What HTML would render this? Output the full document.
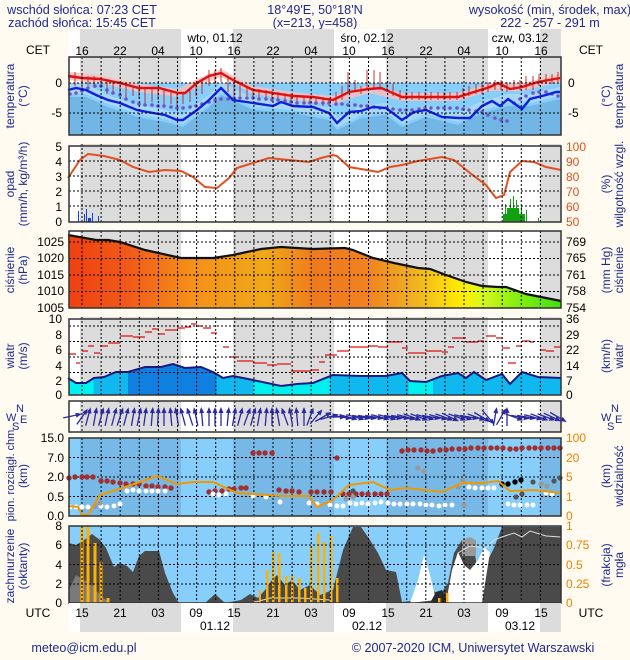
<!DOCTYPE html>
<html><head><meta charset="utf-8"><style>
body{margin:0;background:#fffbf0;}
svg{display:block;font-family:"Liberation Sans",sans-serif;}
.n{fill:#1c2a90;font-size:12px}
.h{fill:#1c2a90;font-size:12.6px}
.t{fill:#000;font-size:12px}
.o{fill:#f08000;font-size:12px}
.r{fill:#e05020;font-size:12px}
.g{stroke:#000;stroke-width:1;stroke-dasharray:2,2;fill:none}
</style></head><body>
<svg width="630" height="660" viewBox="0 0 630 660" xmlns="http://www.w3.org/2000/svg">
<defs>
<g id="nb"><rect x="80" width="101" height="1" fill="#dcdcdc"/><rect x="233" width="101" height="1" fill="#dcdcdc"/><rect x="386" width="102" height="1" fill="#dcdcdc"/><rect x="540" width="21" height="1" fill="#dcdcdc"/></g>
<g id="vg"><path d="M82,0v1M101.1,0v1M120.2,0v1M139.3,0v1M158.4,0v1M177.5,0v1M196.6,0v1M215.7,0v1M234.8,0v1M253.9,0v1M273,0v1M292.1,0v1M311.2,0v1M330.3,0v1M349.4,0v1M368.5,0v1M387.6,0v1M406.7,0v1M425.8,0v1M444.9,0v1M464,0v1M483.1,0v1M502.2,0v1M521.3,0v1M540.4,0v1" stroke="#000" stroke-width="1" stroke-dasharray="2,2" vector-effect="non-scaling-stroke"/></g>
<g id="ar"><line x1="0" y1="9" x2="0" y2="-8" stroke="#2a2aa0" stroke-width="1.3"/><path d="M-2.5,-4L0,-10L2.5,-4Z" fill="#2a2aa0"/></g>
<linearGradient id="pg" x1="69" x2="561" gradientUnits="userSpaceOnUse">
<stop offset="0" stop-color="#f04010"/><stop offset="0.12" stop-color="#f05a18"/><stop offset="0.25" stop-color="#f59018"/><stop offset="0.4" stop-color="#f0a818"/><stop offset="0.5" stop-color="#ee7a1c"/><stop offset="0.6" stop-color="#f08020"/><stop offset="0.7" stop-color="#f0b020"/><stop offset="0.8" stop-color="#ffee00"/><stop offset="0.84" stop-color="#d8f820"/><stop offset="0.9" stop-color="#90f010"/><stop offset="1" stop-color="#40e010"/></linearGradient>
<linearGradient id="wg" x1="69" x2="561" gradientUnits="userSpaceOnUse">
<stop offset="0" stop-color="#00f0f0"/><stop offset="0.05" stop-color="#00f0f0"/><stop offset="0.05" stop-color="#10b8f0"/><stop offset="0.12" stop-color="#10b8f0"/><stop offset="0.12" stop-color="#1080e0"/><stop offset="0.3" stop-color="#1080e0"/><stop offset="0.3" stop-color="#10b8f0"/><stop offset="0.375" stop-color="#10b8f0"/><stop offset="0.375" stop-color="#00f0f0"/><stop offset="0.53" stop-color="#00f0f0"/><stop offset="0.53" stop-color="#10b8f0"/><stop offset="0.69" stop-color="#10b8f0"/><stop offset="0.69" stop-color="#00f0f0"/><stop offset="0.74" stop-color="#00f0f0"/><stop offset="0.74" stop-color="#10b8f0"/><stop offset="1" stop-color="#10b8f0"/></linearGradient>
</defs>

<!-- header -->
<text class="h" x="82" y="14" text-anchor="middle">wschód słońca: 07:23 CET</text>
<text class="h" x="82" y="27" text-anchor="middle">zachód słońca: 15:45 CET</text>
<text class="h" x="315" y="14" text-anchor="middle">18°49'E, 50°18'N</text>
<text class="h" x="315" y="27" text-anchor="middle">(x=213, y=458)</text>
<text class="h" x="550" y="14" text-anchor="middle">wysokość (min, środek, max)</text>
<text class="h" x="550" y="27" text-anchor="middle">222 - 257 - 291 m</text>

<!-- top strip -->
<rect x="69" y="29" width="492" height="28" fill="#fff"/>
<use href="#nb" transform="translate(0,29) scale(1,28)"/>
<g class="t" text-anchor="middle">
<text x="215" y="42" >wto, 01.12</text><text x="367" y="42">śro, 02.12</text><text x="520" y="42">czw, 03.12</text>
<text x="82" y="55">16</text><text x="120" y="55">22</text><text x="158" y="55">04</text><text x="196" y="55">10</text><text x="234" y="55">16</text><text x="273" y="55">22</text><text x="311" y="55">04</text><text x="349" y="55">10</text><text x="388" y="55">16</text><text x="426" y="55">22</text><text x="464" y="55">04</text><text x="502" y="55">10</text><text x="541" y="55">16</text>
<text x="38" y="54">CET</text><text x="591" y="54">CET</text>
</g>

<!-- TEMPERATURE 57-135 -->
<rect x="69" y="57" width="492" height="26" fill="#fff"/>
<use href="#nb" transform="translate(0,57) scale(1,26)"/>
<rect x="69" y="83" width="492" height="52" fill="#87cefa"/>
<polygon fill="#72b6e6" points="69,97 86,97 108,107 137,117 165,122 183,127 209,107 221,95 253,110 293,113 329,120 337,130 361,118 386,115 402,127 426,117 458,125 482,113 508,106 530,106 560,99 561,135 69,135"/>
<polygon fill="#a8d8f8" points="69,84 86,84 108,95 137,105 165,110 183,115 209,95 221,82 253,98 293,101 329,108 337,118 361,106 386,103 402,115 426,105 458,113 482,101 508,94 530,94 560,87 560,96 530,103 508,103 482,110 458,122 426,114 402,124 386,112 361,115 337,127 329,117 293,110 253,107 221,92 209,104 183,124 165,119 137,114 108,104 86,94 69,94"/>
<polygon fill="#f6c0c0" opacity="0.85" points="68,72 100,75 139,84 178,89 197,79 221,69 253,86 293,92 333,96 369,85 402,93 458,93 490,83 522,83 560,74 560,82 522,91 490,91 458,101 402,101 369,93 333,104 293,100 253,94 221,77 197,87 178,97 139,92 100,83 68,80"/>
<g stroke="#c02020" stroke-width="0.9">
<path d="M75,72v14M82,74v16M88,76v10M94,76v12M101,78v10M107,80v14M113,82v12M120,83v12M126,85v12M133,86v10M139,87v12M145,88v16M152,88v14M158,88v12M164,89v16M171,90v14M177,92v14M183,92v12M190,88v14M196,84v12M202,80v14M209,70v16M215,70v14M221,68v14M228,76v16M234,78v18M240,82v14M247,86v10M253,88v10M259,89v10M266,90v8M272,91v8M278,92v8M285,93v8M291,94v8M297,95v8M304,96v8M310,96v8M316,97v8M323,98v8M329,98v8M336,92v14M342,86v14M348,72v20M355,80v12M361,86v8M367,70v18M374,70v18M380,72v18M387,82v10M393,84v12M400,90v10M406,92v8M412,92v8M419,92v8M425,92v8M431,92v8M438,92v8M444,92v8M450,92v8M457,92v8M463,88v10M469,86v10M476,84v10M482,84v10M488,82v10M495,80v10M501,80v10M507,82v10M514,80v10M520,80v10M526,76v14M533,76v14M539,74v12M546,74v10M552,74v10M558,72v10"/>
</g>
<g fill="#6e55c8">
<circle cx="70" cy="94" r="1.8"/><circle cx="76" cy="93" r="1.8"/><circle cx="82" cy="91" r="1.8"/><circle cx="88" cy="88" r="1.8"/><circle cx="95" cy="86" r="1.8"/><circle cx="101" cy="86" r="1.8"/><circle cx="107" cy="90" r="1.8"/><circle cx="113" cy="93" r="1.8"/><circle cx="120" cy="95" r="1.8"/><circle cx="126" cy="99" r="1.8"/><circle cx="133" cy="102" r="1.8"/><circle cx="139" cy="104" r="1.8"/><circle cx="145" cy="105" r="1.8"/><circle cx="152" cy="105" r="1.8"/><circle cx="158" cy="106" r="1.8"/><circle cx="164" cy="106" r="1.8"/><circle cx="171" cy="107" r="1.8"/><circle cx="177" cy="108" r="1.8"/><circle cx="183" cy="108" r="1.8"/><circle cx="190" cy="107" r="1.8"/><circle cx="196" cy="106" r="1.8"/><circle cx="202" cy="104" r="1.8"/><circle cx="209" cy="102" r="1.8"/><circle cx="215" cy="100" r="1.8"/><circle cx="221" cy="99" r="1.8"/><circle cx="228" cy="99" r="1.8"/><circle cx="234" cy="98" r="1.8"/><circle cx="240" cy="98" r="1.8"/><circle cx="247" cy="98" r="1.8"/><circle cx="253" cy="98" r="1.8"/><circle cx="259" cy="99" r="1.8"/><circle cx="266" cy="99" r="1.8"/><circle cx="272" cy="100" r="1.8"/><circle cx="278" cy="100" r="1.8"/><circle cx="285" cy="101" r="1.8"/><circle cx="291" cy="102" r="1.8"/><circle cx="297" cy="103" r="1.8"/><circle cx="304" cy="103" r="1.8"/><circle cx="310" cy="103" r="1.8"/><circle cx="316" cy="103" r="1.8"/><circle cx="323" cy="103" r="1.8"/><circle cx="329" cy="103" r="1.8"/><circle cx="336" cy="104" r="1.8"/><circle cx="342" cy="104" r="1.8"/><circle cx="348" cy="105" r="1.8"/><circle cx="355" cy="105" r="1.8"/><circle cx="361" cy="106" r="1.8"/><circle cx="367" cy="106" r="1.8"/><circle cx="374" cy="107" r="1.8"/><circle cx="380" cy="108" r="1.8"/><circle cx="387" cy="108" r="1.8"/><circle cx="393" cy="109" r="1.8"/><circle cx="400" cy="110" r="1.8"/><circle cx="406" cy="110" r="1.8"/><circle cx="412" cy="110" r="1.8"/><circle cx="419" cy="109" r="1.8"/><circle cx="425" cy="108" r="1.8"/><circle cx="431" cy="108" r="1.8"/><circle cx="438" cy="108" r="1.8"/><circle cx="444" cy="108" r="1.8"/><circle cx="450" cy="108" r="1.8"/><circle cx="457" cy="108" r="1.8"/><circle cx="463" cy="109" r="1.8"/><circle cx="469" cy="110" r="1.8"/><circle cx="476" cy="111" r="1.8"/><circle cx="482" cy="112" r="1.8"/><circle cx="488" cy="115" r="1.8"/><circle cx="495" cy="118" r="1.8"/><circle cx="501" cy="120" r="1.8"/><circle cx="507" cy="121" r="1.8"/><circle cx="514" cy="103" r="1.8"/><circle cx="520" cy="99" r="1.8"/><circle cx="526" cy="96" r="1.8"/><circle cx="533" cy="93" r="1.8"/><circle cx="539" cy="92" r="1.8"/><circle cx="546" cy="92" r="1.8"/><circle cx="552" cy="94" r="1.8"/><circle cx="558" cy="96" r="1.8"/>
</g>
<polyline fill="none" stroke="#e01010" stroke-width="2.4" points="68,76 82,78 100,79 120,83 139,88 159,88 178,93 185,93 197,83 209,76 221,73 233,80 253,90 273,93 293,96 313,97 333,100 349,92 369,89 381,88 402,97 422,97 442,97 458,97 474,92 490,87 498,83 510,89 522,87 538,82 560,78"/>
<polyline fill="none" stroke="#1020e0" stroke-width="2.4" points="68,90 76,88 86,90 96,95 108,100 120,103 137,110 153,113 165,115 177,120 183,120 197,110 209,100 221,88 233,100 253,103 273,106 281,102 293,106 313,107 329,113 337,123 349,112 361,111 373,107 386,108 402,120 414,112 426,110 442,117 458,118 470,118 482,106 492,101 500,106 508,99 522,109 530,99 546,95 556,92 560,92"/>
<use href="#vg" transform="translate(0,57) scale(1,78)"/>
<path d="M69,83H561M69,113H561" class="g"/>
<rect x="69" y="57" width="492" height="78" fill="none" stroke="#333" stroke-width="1.5"/>
<text class="t" x="62" y="87" text-anchor="end">0</text><text class="t" x="62" y="117" text-anchor="end">-5</text>
<text class="t" x="568" y="87">0</text><text class="t" x="568" y="117">-5</text>
<text class="n" transform="translate(14,96) rotate(-90)" text-anchor="middle">temperatura</text>
<text class="n" transform="translate(27,96) rotate(-90)" text-anchor="middle">(°C)</text>
<text class="n" transform="translate(610,96) rotate(-90)" text-anchor="middle">(°C)</text>
<text class="n" transform="translate(623,96) rotate(-90)" text-anchor="middle">temperatura</text>

<!-- PRECIP 144-222 -->
<rect x="69" y="144" width="492" height="78" fill="#fff"/>
<use href="#nb" transform="translate(0,144) scale(1,78)"/>
<g fill="#1040e0"><rect x="78" y="211" width="1" height="11"/><rect x="84" y="214" width="1" height="8"/><rect x="86" y="209" width="1" height="13"/><rect x="88" y="218" width="3" height="4"/><rect x="92" y="213" width="1" height="9"/><rect x="98" y="216" width="1" height="6"/></g>
<g fill="#10a010"><rect x="503" y="214" width="22" height="8"/><rect x="507" y="208" width="12" height="14"/><rect x="505" y="204" width="1" height="18"/><rect x="510" y="199" width="1" height="23"/><rect x="513" y="196" width="1" height="26"/><rect x="516" y="200" width="1" height="22"/><rect x="521" y="205" width="1" height="17"/><rect x="526" y="210" width="1" height="12"/><rect x="538" y="218" width="1" height="4"/></g>
<polyline fill="none" stroke="#e05020" stroke-width="2" points="68,178 80,160 88,154 104,156 120,160 133,167 149,172 165,170 181,171 193,177 205,187 217,188 229,178 237,168 253,163 269,158 289,160 309,162 321,158 333,155 337,156 349,167 361,169 378,172 390,167 402,165 418,161 442,157 454,160 470,173 486,185 496,198 504,195 510,172 522,161 534,162 546,167 561,170"/>
<use href="#vg" transform="translate(0,144) scale(1,78)"/>
<path d="M69,161H561M69,176H561M69,191H561M69,206H561" class="g"/>
<rect x="69" y="146" width="492" height="76" fill="none" stroke="#333" stroke-width="1.5"/>
<g class="t" text-anchor="end"><text x="62" y="151">5</text><text x="62" y="166">4</text><text x="62" y="181">3</text><text x="62" y="196">2</text><text x="62" y="211">1</text><text x="62" y="226">0</text></g>
<g class="r"><text x="566" y="151">100</text><text x="566" y="166">90</text><text x="566" y="181">80</text><text x="566" y="196">70</text><text x="566" y="211">60</text><text x="566" y="226">50</text></g>
<text class="n" transform="translate(14,184) rotate(-90)" text-anchor="middle">opad</text>
<text class="n" transform="translate(27,184) rotate(-90)" text-anchor="middle">(mm/h, kg/m³/h)</text>
<text class="n" transform="translate(610,184) rotate(-90)" text-anchor="middle">(%)</text>
<text class="n" transform="translate(623,184) rotate(-90)" text-anchor="middle">wilgotność wzgl.</text>

<!-- PRESSURE 231-308 -->
<rect x="69" y="231" width="492" height="77" fill="#fff"/>
<use href="#nb" transform="translate(0,231) scale(1,77)"/>
<polygon fill="url(#pg)" points="68,235 96,240 108,240 120,242 145,250 181,258 213,258 233,255 261,249 281,247 313,249 345,248 353,250 373,258 394,263 418,268 430,269 446,275 466,282 482,286 498,287 506,287 526,294 546,298 561,301 561,308 69,308"/>
<polyline fill="none" stroke="#111" stroke-width="2.2" points="68,235 96,240 108,240 120,242 145,250 181,258 213,258 233,255 261,249 281,247 313,249 345,248 353,250 373,258 394,263 418,268 430,269 446,275 466,282 482,286 498,287 506,287 526,294 546,298 561,301"/>
<use href="#vg" transform="translate(0,231) scale(1,77)"/>
<path d="M69,242H561M69,258.5H561M69,275H561M69,291.5H561" class="g"/>
<rect x="69" y="231" width="492" height="77" fill="none" stroke="#333" stroke-width="1.5"/>
<g class="t" text-anchor="end"><text x="64" y="246">1025</text><text x="64" y="262">1020</text><text x="64" y="279">1015</text><text x="64" y="295">1010</text><text x="64" y="312">1005</text></g>
<g class="t"><text x="566" y="246">769</text><text x="566" y="262">765</text><text x="566" y="279">761</text><text x="566" y="295">758</text><text x="566" y="312">754</text></g>
<text class="n" transform="translate(14,270) rotate(-90)" text-anchor="middle">ciśnienie</text>
<text class="n" transform="translate(27,270) rotate(-90)" text-anchor="middle">(hPa)</text>
<text class="n" transform="translate(610,270) rotate(-90)" text-anchor="middle">(mm Hg)</text>
<text class="n" transform="translate(623,270) rotate(-90)" text-anchor="middle">ciśnienie</text>

<!-- WIND 317-395 -->
<rect x="69" y="317" width="492" height="78" fill="#fff"/>
<use href="#nb" transform="translate(0,317) scale(1,78)"/>
<polygon fill="url(#wg)" points="68,378 76,383 86,383 94,378 104,377 116,372 128,372 145,367 161,367 173,364 185,368 201,367 213,372 223,378 233,376 253,380 281,386 297,384 313,383 333,375 361,376 386,376 402,373 410,381 426,382 442,376 458,373 466,378 474,372 486,380 502,374 510,384 522,372 538,377 561,378 561,395 69,395"/>
<polyline fill="none" stroke="#1a1a80" stroke-width="2" points="68,378 76,383 86,383 94,378 104,377 116,372 128,372 145,367 161,367 173,364 185,368 201,367 213,372 223,378 233,376 253,380 281,386 297,384 313,383 333,375 361,376 386,376 402,373 410,381 426,382 442,376 458,373 466,378 474,372 486,380 502,374 510,384 522,372 538,377 561,378"/>
<path stroke="#e01010" stroke-width="1.3" fill="none" d="M68,354h8M76,363h4M82,351h6M88,346h6M94,353h6M100,346h8M108,343h12M120,336h13M133,337h12M145,332h7M152,329h7M159,334h6M165,330h12M177,328h8M185,327h6M191,324h6M197,326h6M203,328h8M211,333h6M223,347h6M229,357h8M237,361h16M253,363h14M267,365h10M277,364h14M291,371h20M311,370h8M319,362h6M325,355h12M337,351h12M349,347h20M369,346h9M378,347h10M388,342h14M402,348h6M408,353h18M426,351h16M442,352h6M448,347h6M452,338h14M466,342h12M478,341h6M486,336h10M496,338h6M502,348h8M508,363h8M516,346h6M522,341h8M530,342h4M540,350h6M546,351h8M554,347h7"/>
<use href="#vg" transform="translate(0,317) scale(1,78)"/>
<path d="M69,326H561M69,341.5H561M69,357H561M69,372.5H561" class="g"/>
<rect x="69" y="319" width="492" height="76" fill="none" stroke="#333" stroke-width="1.5"/>
<g class="t" text-anchor="end"><text x="62" y="323">10</text><text x="62" y="339">8</text><text x="62" y="354">6</text><text x="62" y="370">4</text><text x="62" y="385">2</text><text x="62" y="399">0</text></g>
<g class="t"><text x="566" y="323">36</text><text x="566" y="339">29</text><text x="566" y="354">22</text><text x="566" y="370">14</text><text x="566" y="385">7</text><text x="566" y="399">0</text></g>
<text class="n" transform="translate(14,356) rotate(-90)" text-anchor="middle">wiatr</text>
<text class="n" transform="translate(27,356) rotate(-90)" text-anchor="middle">(m/s)</text>
<text class="n" transform="translate(610,356) rotate(-90)" text-anchor="middle">(km/h)</text>
<text class="n" transform="translate(623,356) rotate(-90)" text-anchor="middle">wiatr</text>

<!-- WIND DIR 401-432 -->
<rect x="69" y="401" width="492" height="31" fill="#fff"/>
<use href="#nb" transform="translate(0,401) scale(1,31)"/>
<use href="#vg" transform="translate(0,401) scale(1,31)"/>
<g>
<use href="#ar" transform="translate(72,416) rotate(78)"/>
<use href="#ar" transform="translate(82,417) rotate(35)"/><use href="#ar" transform="translate(88,417) rotate(15)"/><use href="#ar" transform="translate(95,417) rotate(10)"/><use href="#ar" transform="translate(101,417) rotate(15)"/><use href="#ar" transform="translate(107,417) rotate(12)"/><use href="#ar" transform="translate(114,417) rotate(15)"/><use href="#ar" transform="translate(120,417) rotate(18)"/><use href="#ar" transform="translate(126,417) rotate(15)"/><use href="#ar" transform="translate(133,417) rotate(10)"/><use href="#ar" transform="translate(139,417) rotate(12)"/><use href="#ar" transform="translate(145,417) rotate(8)"/><use href="#ar" transform="translate(152,417) rotate(5)"/><use href="#ar" transform="translate(158,417) rotate(3)"/><use href="#ar" transform="translate(164,417) rotate(0)"/><use href="#ar" transform="translate(171,417) rotate(-5)"/><use href="#ar" transform="translate(177,417) rotate(-10)"/><use href="#ar" transform="translate(183,417) rotate(-15)"/><use href="#ar" transform="translate(190,417) rotate(-18)"/><use href="#ar" transform="translate(196,417) rotate(-12)"/><use href="#ar" transform="translate(202,417) rotate(-5)"/><use href="#ar" transform="translate(209,417) rotate(0)"/><use href="#ar" transform="translate(215,417) rotate(0)"/><use href="#ar" transform="translate(221,417) rotate(0)"/><use href="#ar" transform="translate(228,417) rotate(5)"/><use href="#ar" transform="translate(234,417) rotate(10)"/><use href="#ar" transform="translate(240,417) rotate(15)"/><use href="#ar" transform="translate(247,417) rotate(20)"/><use href="#ar" transform="translate(253,417) rotate(15)"/><use href="#ar" transform="translate(259,417) rotate(10)"/><use href="#ar" transform="translate(266,417) rotate(5)"/><use href="#ar" transform="translate(272,417) rotate(0)"/><use href="#ar" transform="translate(278,417) rotate(-10)"/><use href="#ar" transform="translate(285,417) rotate(-20)"/><use href="#ar" transform="translate(291,417) rotate(-10)"/><use href="#ar" transform="translate(297,417) rotate(-5)"/><use href="#ar" transform="translate(304,417) rotate(0)"/><use href="#ar" transform="translate(310,417) rotate(20)"/><use href="#ar" transform="translate(316,417) rotate(40)"/><use href="#ar" transform="translate(323,417) rotate(60)"/><use href="#ar" transform="translate(329,417) rotate(75)"/><use href="#ar" transform="translate(336,417) rotate(90)"/><use href="#ar" transform="translate(342,417) rotate(100)"/><use href="#ar" transform="translate(348,417) rotate(105)"/><use href="#ar" transform="translate(355,417) rotate(105)"/><use href="#ar" transform="translate(361,417) rotate(100)"/><use href="#ar" transform="translate(367,417) rotate(100)"/><use href="#ar" transform="translate(374,417) rotate(100)"/><use href="#ar" transform="translate(380,417) rotate(105)"/><use href="#ar" transform="translate(387,417) rotate(105)"/><use href="#ar" transform="translate(393,417) rotate(100)"/><use href="#ar" transform="translate(400,417) rotate(100)"/><use href="#ar" transform="translate(406,417) rotate(105)"/><use href="#ar" transform="translate(412,417) rotate(110)"/><use href="#ar" transform="translate(419,417) rotate(110)"/><use href="#ar" transform="translate(425,417) rotate(105)"/><use href="#ar" transform="translate(431,417) rotate(100)"/><use href="#ar" transform="translate(438,417) rotate(105)"/><use href="#ar" transform="translate(444,417) rotate(110)"/><use href="#ar" transform="translate(450,417) rotate(115)"/><use href="#ar" transform="translate(457,417) rotate(110)"/><use href="#ar" transform="translate(463,417) rotate(105)"/><use href="#ar" transform="translate(469,417) rotate(100)"/><use href="#ar" transform="translate(476,417) rotate(110)"/><use href="#ar" transform="translate(482,417) rotate(120)"/><use href="#ar" transform="translate(488,417) rotate(140)"/><use href="#ar" transform="translate(495,417) rotate(10)"/><use href="#ar" transform="translate(501,417) rotate(30)"/><use href="#ar" transform="translate(507,417) rotate(0)"/><use href="#ar" transform="translate(514,417) rotate(110)"/><use href="#ar" transform="translate(520,417) rotate(100)"/><use href="#ar" transform="translate(526,417) rotate(100)"/><use href="#ar" transform="translate(533,417) rotate(105)"/><use href="#ar" transform="translate(539,417) rotate(110)"/><use href="#ar" transform="translate(546,417) rotate(110)"/><use href="#ar" transform="translate(552,417) rotate(115)"/><use href="#ar" transform="translate(558,417) rotate(120)"/>
</g>
<rect x="69" y="401" width="492" height="31" fill="none" stroke="#333" stroke-width="1.5"/>
<g fill="#1c2a90" font-size="11"><text x="16" y="412">N</text><text x="6" y="421">W</text><text x="20" y="423">E</text><text x="12" y="430">S</text>
<text x="611" y="412">N</text><text x="601" y="421">W</text><text x="615" y="423">E</text><text x="607" y="430">S</text></g>

<!-- VISIBILITY 438-516 -->
<rect x="69" y="438" width="492" height="78" fill="#87cefa"/>
<g fill="#78b8e6"><rect x="80" y="438" width="101" height="78"/><rect x="233" y="438" width="101" height="78"/><rect x="386" y="438" width="102" height="78"/><rect x="540" y="438" width="21" height="78"/></g>
<use href="#vg" transform="translate(0,438) scale(1,78)"/>
<path d="M69,457.5H561M69,477H561M69,496.5H561" class="g"/>
<g fill="#a03030">
<circle cx="69" cy="478" r="2.7"/><circle cx="75" cy="477" r="2.7"/><circle cx="82" cy="477" r="2.7"/><circle cx="87" cy="477" r="2.7"/><circle cx="93" cy="477" r="2.7"/><circle cx="101" cy="481" r="2.7"/><circle cx="107" cy="481" r="2.7"/><circle cx="113" cy="482" r="2.7"/><circle cx="120" cy="483" r="2.7"/><circle cx="126" cy="484" r="2.7"/><circle cx="133" cy="484" r="2.7"/><circle cx="139" cy="484" r="2.7"/><circle cx="146" cy="486" r="2.7"/><circle cx="152" cy="486" r="2.7"/><circle cx="158" cy="487" r="2.7"/><circle cx="165" cy="487" r="2.7"/><circle cx="171" cy="488" r="2.7"/>
<circle cx="209" cy="492" r="2.7"/><circle cx="215" cy="491" r="2.7"/><circle cx="222" cy="491" r="2.7"/><circle cx="229" cy="489" r="2.7"/><circle cx="234" cy="489" r="2.7"/><circle cx="241" cy="488" r="2.7"/><circle cx="246" cy="488" r="2.7"/>
<circle cx="253" cy="453" r="2.7"/><circle cx="259" cy="453" r="2.7"/><circle cx="265" cy="453" r="2.7"/><circle cx="272" cy="453" r="2.7"/>
<circle cx="279" cy="490" r="2.7"/><circle cx="286" cy="491" r="2.7"/><circle cx="292" cy="491" r="2.7"/><circle cx="299" cy="492" r="2.7"/><circle cx="311" cy="492" r="2.7"/><circle cx="317" cy="492" r="2.7"/><circle cx="324" cy="492" r="2.7"/><circle cx="331" cy="492" r="2.7"/><circle cx="337" cy="458" r="2.7"/>
<circle cx="343" cy="494" r="2.7"/><circle cx="349" cy="494" r="2.7"/><circle cx="356" cy="494" r="2.7"/><circle cx="362" cy="494" r="2.7"/><circle cx="368" cy="494" r="2.7"/><circle cx="375" cy="494" r="2.7"/><circle cx="381" cy="494" r="2.7"/><circle cx="387" cy="494" r="2.7"/>
<circle cx="402" cy="451" r="2.7"/><circle cx="408" cy="450" r="2.7"/><circle cx="414" cy="450" r="2.7"/><circle cx="421" cy="450" r="2.7"/><circle cx="427" cy="451" r="2.7"/><circle cx="433" cy="451" r="2.7"/><circle cx="440" cy="450" r="2.7"/><circle cx="446" cy="450" r="2.7"/><circle cx="452" cy="449" r="2.7"/><circle cx="459" cy="449" r="2.7"/><circle cx="465" cy="449" r="2.7"/><circle cx="471" cy="448" r="2.7"/><circle cx="478" cy="448" r="2.7"/><circle cx="484" cy="448" r="2.7"/><circle cx="491" cy="448" r="2.7"/><circle cx="497" cy="448" r="2.7"/><circle cx="503" cy="448" r="2.7"/><circle cx="510" cy="449" r="2.7"/><circle cx="516" cy="449" r="2.7"/><circle cx="522" cy="448" r="2.7"/><circle cx="529" cy="448" r="2.7"/><circle cx="535" cy="448" r="2.7"/><circle cx="541" cy="448" r="2.7"/><circle cx="548" cy="448" r="2.7"/><circle cx="554" cy="448" r="2.7"/><circle cx="560" cy="448" r="2.7"/>
</g>
<g fill="#fff">
<circle cx="70" cy="507" r="2.5"/><circle cx="76" cy="507" r="2.5"/><circle cx="82" cy="507" r="2.5"/><circle cx="88" cy="507" r="2.5"/><circle cx="101" cy="506" r="2.5"/><circle cx="107" cy="507" r="2.5"/><circle cx="114" cy="506" r="2.5"/><circle cx="120" cy="504" r="2.5"/>
<circle cx="127" cy="491" r="2.5"/><circle cx="133" cy="490" r="2.5"/><circle cx="139" cy="491" r="2.5"/><circle cx="146" cy="491" r="2.5"/><circle cx="152" cy="491" r="2.5"/><circle cx="158" cy="491" r="2.5"/><circle cx="165" cy="491" r="2.5"/>
<circle cx="213" cy="494" r="2.5"/><circle cx="219" cy="495" r="2.5"/><circle cx="226" cy="494" r="2.5"/><circle cx="253" cy="496" r="2.5"/><circle cx="266" cy="497" r="2.5"/><circle cx="280" cy="502" r="2.5"/>
<circle cx="309" cy="503" r="2.5"/><circle cx="317" cy="504" r="2.5"/><circle cx="330" cy="505" r="2.5"/><circle cx="337" cy="506" r="2.5"/><circle cx="343" cy="506" r="2.5"/><circle cx="350" cy="503" r="2.5"/><circle cx="356" cy="504" r="2.5"/><circle cx="362" cy="503" r="2.5"/><circle cx="368" cy="504" r="2.5"/><circle cx="375" cy="503" r="2.5"/><circle cx="381" cy="502" r="2.5"/><circle cx="388" cy="503" r="2.5"/><circle cx="394" cy="504" r="2.5"/><circle cx="400" cy="504" r="2.5"/><circle cx="407" cy="504" r="2.5"/><circle cx="413" cy="504" r="2.5"/><circle cx="420" cy="504" r="2.5"/><circle cx="426" cy="505" r="2.5"/><circle cx="432" cy="505" r="2.5"/><circle cx="439" cy="506" r="2.5"/><circle cx="445" cy="505" r="2.5"/><circle cx="452" cy="505" r="2.5"/>
<circle cx="469" cy="487" r="2.5"/><circle cx="475" cy="488" r="2.5"/><circle cx="482" cy="488" r="2.5"/><circle cx="488" cy="488" r="2.5"/><circle cx="494" cy="488" r="2.5"/>
<circle cx="508" cy="504" r="2.5"/><circle cx="514" cy="505" r="2.5"/><circle cx="520" cy="505" r="2.5"/><circle cx="527" cy="505" r="2.5"/><circle cx="533" cy="505" r="2.5"/><circle cx="546" cy="493" r="2.5"/><circle cx="552" cy="494" r="2.5"/>
</g>
<g fill="#999"><circle cx="95" cy="506" r="2.6"/><circle cx="100" cy="503" r="2.6"/><circle cx="346" cy="499" r="2.6"/><circle cx="353" cy="497" r="2.6"/><circle cx="418" cy="468" r="2.6"/><circle cx="424" cy="471" r="2.6"/><circle cx="458" cy="487" r="2.6"/><circle cx="463" cy="480" r="2.6"/><circle cx="464" cy="505" r="2.6"/><circle cx="541" cy="484" r="2.6"/><circle cx="547" cy="486" r="2.6"/></g>
<g fill="#555"><circle cx="353" cy="491" r="2.6"/><circle cx="516" cy="497" r="2.6"/><circle cx="522" cy="494" r="2.6"/><circle cx="533" cy="482" r="2.6"/><circle cx="554" cy="481" r="2.6"/><circle cx="560" cy="478" r="2.6"/></g>
<g fill="#000"><circle cx="502" cy="484" r="2.7"/><circle cx="508" cy="484" r="2.7"/><circle cx="515" cy="482" r="2.7"/><circle cx="521" cy="480" r="2.7"/></g>
<polyline fill="none" stroke="#f09800" stroke-width="2" points="68,506 78,507 82,515 88,515 100,495 116,490 137,483 157,476 177,484 193,482 213,482 237,493 281,496 309,496 317,507 333,500 349,485 373,482 390,490 406,488 442,492 462,483 482,483 498,481 510,491 534,490 561,493"/>
<rect x="69" y="438" width="492" height="78" fill="none" stroke="#333" stroke-width="1.5"/>
<g class="t" text-anchor="end"><text x="64" y="442">15.0</text><text x="64" y="462">7.0</text><text x="64" y="481">2.0</text><text x="64" y="501">0.5</text><text x="64" y="520">0.0</text></g>
<g class="o"><text x="566" y="442">100</text><text x="566" y="462">20</text><text x="566" y="481">5</text><text x="566" y="501">1</text><text x="566" y="520">0</text></g>
<text class="n" style="font-size:11px" transform="translate(14,474) rotate(-90)" text-anchor="middle">pion. rozciągł. chm.</text>
<text class="n" transform="translate(27,476) rotate(-90)" text-anchor="middle">(km)</text>
<text class="n" transform="translate(610,476) rotate(-90)" text-anchor="middle">(km)</text>
<text class="n" transform="translate(623,476) rotate(-90)" text-anchor="middle">widzialność</text>

<!-- CLOUDS 526-603 -->
<rect x="69" y="526" width="492" height="77" fill="#87cefa"/>
<polygon fill="#4a4a4a" points="69,603 69,543 76,545 84,540 92,534 100,540 106,548 114,567 120,563 127,566 133,572 139,556 145,551 159,551 165,573 173,593 179,603 205,603 215,594 225,603 241,600 250,594 258,598 265,590 272,580 277,575 285,585 292,580 300,590 310,585 320,595 333,590 343,550 353,527 361,527 370,540 378,553 386,570 396,572 402,602 420,600 432,590 440,595 448,583 454,553 462,540 474,548 482,600 488,560 494,548 502,527 561,527 561,603"/>
<polygon fill="#7a7a7a" points="69,590 76,575 84,580 92,585 100,595 110,603 69,603"/>
<polygon fill="#9a9a9a" points="462,540 470,537 476,540 476,556 462,556"/>
<polygon fill="#fff" points="410,603 418,580 424,555 430,575 436,600"/>
<polygon fill="#fff" points="446,603 452,570 458,552 464,565 470,570 478,560 484,548 490,552 482,603"/>
<polygon fill="#2a2a2a" points="430,603 436,592 442,590 448,603"/>
<polyline fill="none" stroke="#ddd" stroke-width="1" points="458,553 470,546 486,548 494,540 502,537 514,533 522,537 530,531 546,536 561,537"/>
<polyline fill="none" stroke="#ddd" stroke-width="1" points="252,603 270,598 300,598 330,600"/>
<g fill="#ffb000">
<rect x="80.5" y="526" width="3" height="77"/><rect x="86.5" y="526" width="3" height="77"/><rect x="93.5" y="543" width="3" height="60"/><rect x="99.5" y="562" width="3" height="41"/><rect x="106.5" y="598" width="3" height="5"/>
<rect x="254" y="601" width="2" height="2"/><rect x="259" y="590" width="2" height="13"/><rect x="266" y="570" width="2.5" height="33"/><rect x="272" y="552" width="2.5" height="51"/><rect x="278" y="553" width="2.5" height="50"/><rect x="285" y="576" width="2.5" height="27"/><rect x="291" y="575" width="2.5" height="28"/><rect x="298" y="578" width="2.5" height="25"/><rect x="304" y="588" width="2.5" height="15"/><rect x="310" y="546" width="2.5" height="57"/><rect x="317" y="533" width="2.5" height="70"/><rect x="323" y="542" width="2.5" height="61"/><rect x="330" y="536" width="2.5" height="67"/><rect x="336" y="578" width="2.5" height="25"/>
<rect x="438" y="598" width="2.5" height="5"/><rect x="446" y="593" width="2.5" height="10"/>
</g>
<use href="#vg" transform="translate(0,526) scale(1,77)"/>
<path d="M69,545H561M69,564.5H561M69,584H561" class="g"/>
<rect x="69" y="526" width="492" height="77" fill="none" stroke="#333" stroke-width="1.5"/>
<g class="t" text-anchor="end"><text x="62" y="530">8</text><text x="62" y="549">6</text><text x="62" y="569">4</text><text x="62" y="588">2</text><text x="62" y="607">0</text></g>
<g class="o"><text x="566" y="530">1</text><text x="566" y="549">0.75</text><text x="566" y="569">0.5</text><text x="566" y="588">0.25</text><text x="566" y="607">0</text></g>
<text class="n" transform="translate(14,566) rotate(-90)" text-anchor="middle">zachmurzenie</text>
<text class="n" transform="translate(27,566) rotate(-90)" text-anchor="middle">(oktanty)</text>
<text class="n" transform="translate(610,565) rotate(-90)" text-anchor="middle">(frakcja)</text>
<text class="n" transform="translate(623,565) rotate(-90)" text-anchor="middle">mgła</text>

<!-- bottom strip -->
<rect x="69" y="603" width="492" height="29" fill="#fff"/>
<use href="#nb" transform="translate(0,603) scale(1,29)"/>
<g class="t" text-anchor="middle">
<text x="38" y="617">UTC</text><text x="591" y="617">UTC</text>
<text x="82" y="617">15</text><text x="120" y="617">21</text><text x="158" y="617">03</text><text x="196" y="617">09</text><text x="234" y="617">15</text><text x="273" y="617">21</text><text x="311" y="617">03</text><text x="349" y="617">09</text><text x="388" y="617">15</text><text x="426" y="617">21</text><text x="464" y="617">03</text><text x="502" y="617">09</text><text x="541" y="617">15</text>
<text x="215" y="630">01.12</text><text x="367" y="630">02.12</text><text x="520" y="630">03.12</text>
</g>

<text class="h" x="84" y="652" text-anchor="middle">meteo@icm.edu.pl</text>
<text class="h" x="473" y="652" text-anchor="middle">© 2007-2020 ICM, Uniwersytet Warszawski</text>
</svg>
</body></html>
